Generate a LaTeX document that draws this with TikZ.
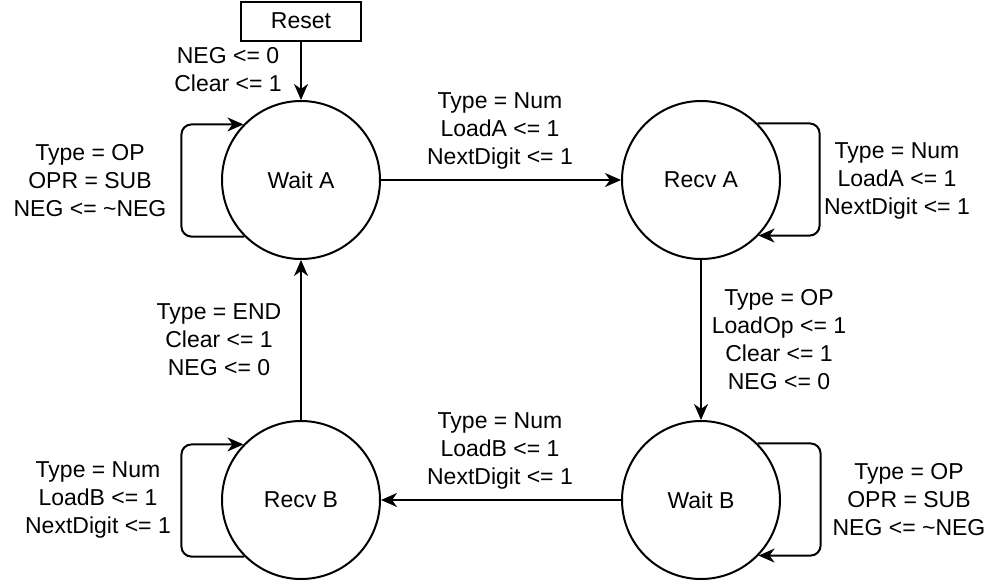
\documentclass[tikz,border=0pt]{standalone}
\usepackage{fontspec}
\setmainfont{Liberation Sans}
\usetikzlibrary{arrows.meta}
\begin{document}
\begin{tikzpicture}[x=1pt,y=-1pt,
  fsm/.style={circle, draw, line width=2pt, minimum size=158pt, inner sep=0pt, font=\fontsize{23}{28}\selectfont},
  resetbox/.style={rectangle, draw, line width=2pt, minimum width=120pt, minimum height=39pt, inner sep=0pt, font=\fontsize{23}{28}\selectfont},
  lbl/.style={align=center, inner sep=0pt, font=\fontsize{23}{28}\selectfont},
  arr/.style={-{Stealth[length=16pt,width=14pt,inset=5pt]}, line width=2pt},
  selfloop/.style={arr, rounded corners=10pt}]
\useasboundingbox (0,0) rectangle (1004,584);

\node[resetbox] (reset) at (301,21) {Reset};
\node[fsm] (waitA) at (301,180) {Wait A};
\node[fsm] (recvA) at (701,180) {Recv A};
\node[fsm] (waitB) at (701,500) {Wait B};
\node[fsm] (recvB) at (301,500) {Recv B};

\draw[arr] (reset) -- (waitA);
\draw[arr] (waitA) -- (recvA);
\draw[arr] (recvA) -- (waitB);
\draw[arr] (waitB) -- (recvB);
\draw[arr] (recvB) -- (waitA);

\draw[selfloop] (waitA.225) -- ++(-63,0) |- (waitA.136);
\draw[selfloop] (recvA.45) -- ++(62,0) |- (recvA.-44);
\draw[selfloop] (waitB.45) -- ++(63,0) |- (waitB.-44);
\draw[selfloop] (recvB.225) -- ++(-63,0) |- (recvB.136);

\node[lbl] (lreset) at (228,70) {NEG <= 0\\Clear <= 1};
\node[lbl] (lwArA) at (500,131) {Type = Num\\LoadA <= 1\\NextDigit <= 1};
\node[lbl] (lrAloop) at (897,181) {Type = Num\\LoadA <= 1\\NextDigit <= 1};
\node[lbl] (lwAloop) at (90,181) {Type = OP\\OPR = SUB\\NEG <= \textasciitilde NEG};
\node[lbl] (lrAwB) at (779,340) {Type = OP\\LoadOp <= 1\\Clear <= 1\\NEG <= 0};
\node[lbl] (lrBwA) at (219,340) {Type = END\\Clear <= 1\\NEG <= 0};
\node[lbl] (lwBrB) at (500,451) {Type = Num\\LoadB <= 1\\NextDigit <= 1};
\node[lbl] (lwBloop) at (909,500) {Type = OP\\OPR = SUB\\NEG <= \textasciitilde NEG};
\node[lbl] (lrBloop) at (98,500) {Type = Num\\LoadB <= 1\\NextDigit <= 1};
\end{tikzpicture}
\end{document}
